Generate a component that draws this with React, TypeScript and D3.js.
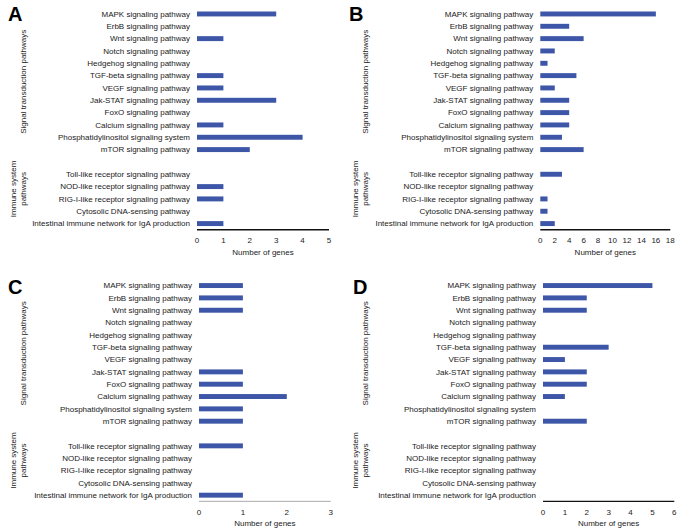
import React from "react";
import * as d3 from "d3";

const pathways = [
  "MAPK signaling pathway",
  "ErbB signaling pathway",
  "Wnt signaling pathway",
  "Notch signaling pathway",
  "Hedgehog signaling pathway",
  "TGF-beta signaling pathway",
  "VEGF signaling pathway",
  "Jak-STAT signaling pathway",
  "FoxO signaling pathway",
  "Calcium signaling pathway",
  "Phosphatidylinositol signaling system",
  "mTOR signaling pathway",
  "",
  "Toll-like receptor signaling pathway",
  "NOD-like receptor signaling pathway",
  "RIG-I-like receptor signaling pathway",
  "Cytosolic DNA-sensing pathway",
  "Intestinal immune network for IgA production",
];

const valuesA = [3, 0, 1, 0, 0, 1, 1, 3, 0, 1, 4, 2, 0, 0, 1, 1, 0, 1];
const valuesB = [16, 4, 6, 2, 1, 5, 2, 4, 4, 4, 3, 6, 0, 3, 0, 1, 1, 2];
const valuesC = [1, 1, 1, 0, 0, 0, 0, 1, 1, 2, 1, 1, 0, 1, 0, 0, 0, 1];
const valuesD = [5, 2, 2, 0, 0, 3, 1, 2, 2, 1, 0, 2, 0, 0, 0, 0, 0, 0];

const ticksA = [0, 1, 2, 3, 4, 5];
const ticksB = [0, 2, 4, 6, 8, 10, 12, 14, 16, 18];
const ticksC = [0, 1, 2, 3];
const ticksD = [0, 1, 2, 3, 4, 5, 6];

const FONT = "'Liberation Sans', Arial, Helvetica, sans-serif";
const BAR = "#3d56a8";

type PanelProps = {
  letter: string;
  values: number[];
  ticks: number[];
  x0: number;
  x1: number;
  top: number;
  ox: number;
  axisColor: string;
  axisWidth: number;
  letterX: number;
  letterY: number;
};

function Panel(p: PanelProps) {
  const step = 12.33;
  const domainMax = p.ticks[p.ticks.length - 1];
  const x = d3.scaleLinear().domain([0, domainMax]).range([p.x0, p.x1]);
  const idx = pathways.map((_, i) => String(i));
  const y = d3
    .scaleBand<string>()
    .domain(idx)
    .range([p.top, p.top + step * pathways.length])
    .paddingInner(0.6)
    .paddingOuter(0.3);
  const axisY = p.top + step * pathways.length;
  const center = (i: number) => (y(String(i)) as number) + y.bandwidth() / 2;
  const sigCenter = (center(0) + center(11)) / 2;
  const immCenter = (center(13) + center(17)) / 2 - 10;
  return (
    <g>
      <text x={p.letterX} y={p.letterY} fontSize={20} fontWeight="bold" fontFamily={FONT} fill="#000">
        {p.letter}
      </text>
      {pathways.map((name, i) =>
        name ? (
          <text
            key={"l" + i}
            x={p.x0 - 7}
            y={center(i)}
            dy="0.35em"
            textAnchor="end"
            fontSize={8}
            fontFamily={FONT}
            fill="#1a1a1a"
          >
            {name}
          </text>
        ) : null
      )}
      {p.values.map((v, i) =>
        v > 0 ? (
          <rect
            key={"b" + i}
            x={x(0)}
            y={y(String(i)) as number}
            width={x(v) - x(0)}
            height={y.bandwidth()}
            fill={BAR}
          />
        ) : null
      )}
      <line x1={p.x0} x2={p.x1} y1={axisY} y2={axisY} stroke={p.axisColor} strokeWidth={p.axisWidth} />
      {p.ticks.map((t) => (
        <text
          key={"t" + t}
          x={x(t)}
          y={axisY + 13.5}
          textAnchor="middle"
          fontSize={8}
          fontFamily={FONT}
          fill="#222"
        >
          {t}
        </text>
      ))}
      <text
        x={(p.x0 + p.x1) / 2}
        y={axisY + 25}
        textAnchor="middle"
        fontSize={8}
        fontFamily={FONT}
        fill="#222"
      >
        Number of genes
      </text>
      <text
        transform={`translate(${p.ox + 23},${sigCenter}) rotate(-90)`}
        dy="0.35em"
        textAnchor="middle"
        fontSize={8}
        fontFamily={FONT}
        fill="#1a1a1a"
      >
        Signal transduction pathways
      </text>
      <text
        transform={`translate(${p.ox + 13},${immCenter}) rotate(-90)`}
        dy="0.35em"
        textAnchor="middle"
        fontSize={8}
        fontFamily={FONT}
        fill="#1a1a1a"
      >
        Immune system
      </text>
      <text
        transform={`translate(${p.ox + 23},${immCenter}) rotate(-90)`}
        dy="0.35em"
        textAnchor="middle"
        fontSize={8}
        fontFamily={FONT}
        fill="#1a1a1a"
      >
        pathways
      </text>
    </g>
  );
}

export default function App() {
  return (
    <svg
      width={684}
      height={531}
      style={{ position: "absolute", left: 0, top: 0, background: "#fff" }}
    >
      <rect width={684} height={531} fill="#fff" />
      <Panel letter="A" values={valuesA} ticks={ticksA} x0={197} x1={329} top={7.8} ox={0}
        axisColor="#111" axisWidth={1.3} letterX={8} letterY={21} />
      <Panel letter="B" values={valuesB} ticks={ticksB} x0={540.3} x1={670.3} top={7.8} ox={342}
        axisColor="#111" axisWidth={1.3} letterX={349} letterY={21} />
      <Panel letter="C" values={valuesC} ticks={ticksC} x0={199} x1={330.7} top={279.4} ox={0}
        axisColor="#aaa" axisWidth={1} letterX={8} letterY={294} />
      <Panel letter="D" values={valuesD} ticks={ticksD} x0={543} x1={674.3} top={279.4} ox={342}
        axisColor="#111" axisWidth={1.3} letterX={353} letterY={294} />
    </svg>
  );
}
